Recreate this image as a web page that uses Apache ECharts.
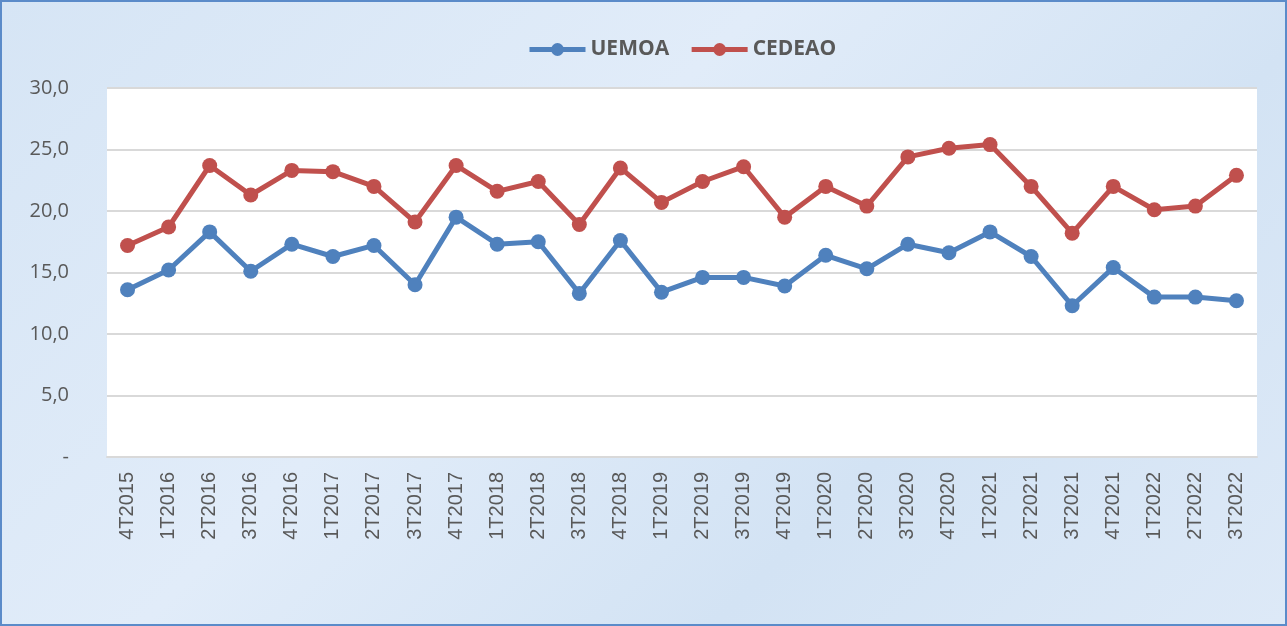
<!DOCTYPE html>
<html>
<head>
<meta charset="utf-8">
<script src="https://cdn.jsdelivr.net/npm/echarts@6/dist/echarts.min.js"></script>
<style>
    html, body { margin: 0; padding: 0; }
    #main {
        width: 1287px; height: 626px; box-sizing: border-box;
        border: 2px solid #5b8bc9;
        background: linear-gradient(135deg, #d6e5f5 0%, #e1ecf9 40%, #d3e3f4 70%, #dde9f7 100%);
    }
</style>
</head>
<body>
<div id="main"></div>
<script>
//trimestres
var categories = ['4T2015', '1T2016', '2T2016', '3T2016', '4T2016', '1T2017', '2T2017', '3T2017',
    '4T2017', '1T2018', '2T2018', '3T2018', '4T2018', '1T2019', '2T2019', '3T2019', '4T2019',
    '1T2020', '2T2020', '3T2020', '4T2020', '1T2021', '2T2021', '3T2021', '4T2021',
    '1T2022', '2T2022', '3T2022'];
var uemoa = [13.6, 15.2, 18.3, 15.1, 17.3, 16.3, 17.2, 14.0, 19.5, 17.3, 17.5, 13.3, 17.6, 13.4,
    14.6, 14.6, 13.9, 16.4, 15.3, 17.3, 16.6, 18.3, 16.3, 12.3, 15.4, 13.0, 13.0, 12.7];
var cedeao = [17.2, 18.7, 23.7, 21.3, 23.3, 23.2, 22.0, 19.1, 23.7, 21.6, 22.4, 18.9, 23.5, 20.7,
    22.4, 23.6, 19.5, 22.0, 20.4, 24.4, 25.1, 25.4, 22.0, 18.2, 22.0, 20.1, 20.4, 22.9];

var chart = echarts.init(document.getElementById('main'));
var option = {
    animation: false,
    legend: {
        top: 32,
        left: 520,
        itemWidth: 56,
        itemHeight: 16,
        itemGap: 20,
        lineStyle: { width: 5 },
        textStyle: { fontSize: 21, fontWeight: 'bold', color: '#595959', fontFamily: 'Open Sans' },
        data: ['UEMOA', 'CEDEAO']
    },
    grid: {
        left: 105,
        right: 28,
        top: 86,
        bottom: 167,
        show: true,
        backgroundColor: '#ffffff',
        borderWidth: 0
    },
    xAxis: {
        type: 'category',
        boundaryGap: true,
        data: categories,
        axisLine: { lineStyle: { color: '#d9d9d9', width: 2 } },
        axisTick: { show: false },
        axisLabel: {
            rotate: 90,
            interval: 0,
            margin: 15,
            fontSize: 20,
            color: '#595959',
            fontFamily: 'Liberation Sans'
        }
    },
    yAxis: {
        type: 'value',
        min: 0,
        max: 30,
        interval: 5,
        axisLine: { show: false },
        axisTick: { show: false },
        splitLine: { lineStyle: { color: '#d9d9d9', width: 2 } },
        axisLabel: {
            margin: 38,
            fontSize: 20,
            color: '#595959',
            fontFamily: 'Open Sans',
            formatter: function (v) {
                return v === 0 ? '-' : v.toFixed(1).replace('.', ',');
            }
        }
    },
    series: [
        {
            name: 'UEMOA',
            type: 'line',
            data: uemoa,
            symbol: 'circle',
            symbolSize: 15,
            itemStyle: { color: '#4f81bd' },
            lineStyle: { color: '#4f81bd', width: 5 }
        },
        {
            name: 'CEDEAO',
            type: 'line',
            data: cedeao,
            symbol: 'circle',
            symbolSize: 15,
            itemStyle: { color: '#c0504d' },
            lineStyle: { color: '#c0504d', width: 5 }
        }
    ]
};
chart.setOption(option);
</script>
</body>
</html>
